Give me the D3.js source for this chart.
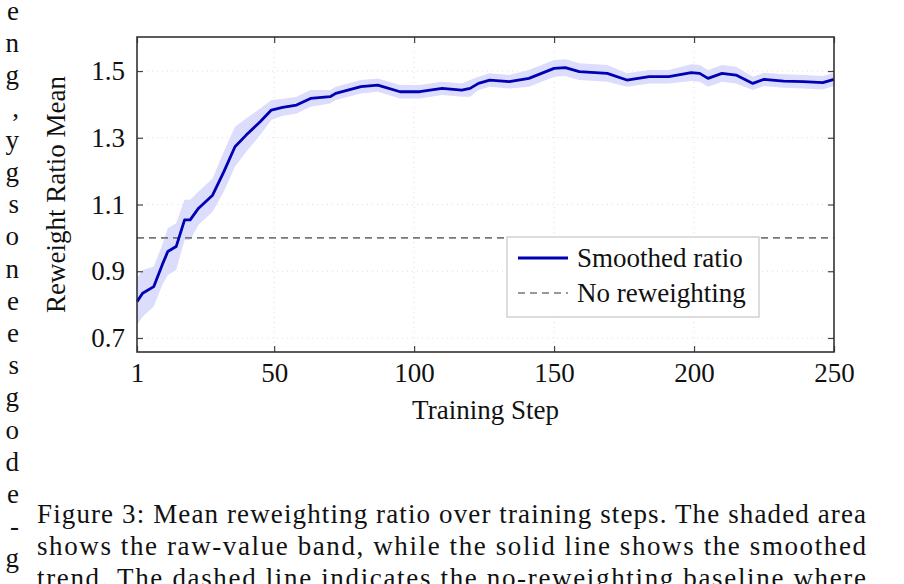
<!DOCTYPE html>
<html><head><meta charset="utf-8">
<script src="https://cdn.jsdelivr.net/npm/d3@7"></script>
<style>body{margin:0;background:#fff}svg{display:block}text{font-family:"Liberation Serif","Times New Roman",serif}</style>
</head><body><svg id="c" width="904" height="584"></svg>
<script>
const steps = [1,3,7,10,12,15,18,20,23,28,32,36,40,45,49,53,58,63,70,72,81,87,95,102,110,117,120,123,127,134,141,150,154,159,169,176,184,191,199,202,205,210,215,221,225,232,239,246,250];
const smoothed = [0.809,0.834,0.854,0.919,0.959,0.974,1.054,1.054,1.089,1.128,1.198,1.273,1.308,1.348,1.383,1.391,1.398,1.418,1.423,1.433,1.453,1.458,1.438,1.438,1.448,1.443,1.448,1.463,1.473,1.468,1.478,1.508,1.510,1.498,1.493,1.473,1.483,1.483,1.495,1.493,1.478,1.493,1.488,1.463,1.475,1.470,1.468,1.465,1.475];
const bandHalf = [0.07,0.07,0.06,0.06,0.07,0.07,0.06,0.06,0.05,0.05,0.06,0.06,0.05,0.04,0.03,0.025,0.025,0.025,0.02,0.02,0.02,0.02,0.02,0.02,0.02,0.02,0.025,0.02,0.02,0.02,0.025,0.025,0.025,0.025,0.025,0.02,0.02,0.02,0.025,0.025,0.025,0.025,0.025,0.02,0.02,0.02,0.02,0.02,0.02];
const xTicks = [1,50,100,150,200,250];
const yTicks = [0.7,0.9,1.1,1.3,1.5];
const baseline = 1.0;
const sideLetters = ["e","n","g",",","y","g","s","o","n","e","e","s","g","o","d","e","-","g"];
const caption = ["Figure 3: Mean reweighting ratio over training steps. The shaded area","shows the raw-value band, while the solid line shows the smoothed","trend. The dashed line indicates the no-reweighting baseline where"];

const svg = d3.select("#c");
const L=137,R=834,T=37,B=352;
const x = d3.scaleLinear().domain([1,250]).range([L,R]);
const y = d3.scaleLinear().domain([0.658,1.602]).range([B,T]);
svg.append("g").selectAll("line").data(xTicks.slice(1,-1)).join("line")
 .attr("x1",d=>x(d)).attr("x2",d=>x(d)).attr("y1",T).attr("y2",B)
 .attr("stroke","#ddd").attr("stroke-dasharray","1,4");
svg.append("g").selectAll("line").data(yTicks).join("line")
 .attr("x1",L).attr("x2",R).attr("y1",d=>y(d)).attr("y2",d=>y(d))
 .attr("stroke","#ddd").attr("stroke-dasharray","1,4");
svg.append("path").datum(steps.map((s,i)=>[s,smoothed[i]-bandHalf[i],smoothed[i]+bandHalf[i]]))
 .attr("fill","#dcdcfc").attr("d",d3.area().x(d=>x(d[0])).y0(d=>y(d[1])).y1(d=>y(d[2])));
svg.append("line").attr("x1",L).attr("x2",R).attr("y1",y(baseline)).attr("y2",y(baseline))
 .attr("stroke","#777").attr("stroke-width",1.6).attr("stroke-dasharray","7,5");
svg.append("path").datum(steps.map((s,i)=>[s,smoothed[i]]))
 .attr("fill","none").attr("stroke","#0000b4").attr("stroke-width",2.8).attr("stroke-linejoin","round")
 .attr("d",d3.line().x(d=>x(d[0])).y(d=>y(d[1])));
const ax = svg.append("g").attr("transform",`translate(0,${B})`).call(d3.axisBottom(x).tickValues(xTicks).tickSize(-6).tickPadding(11));
const axT = svg.append("g").attr("transform",`translate(0,${T})`).call(d3.axisTop(x).tickValues(xTicks).tickSize(-6).tickFormat(""));
const ay = svg.append("g").attr("transform",`translate(${L},0)`).call(d3.axisLeft(y).tickValues(yTicks).tickSize(-6).tickPadding(12).tickFormat(d3.format(".1f")));
const ayR = svg.append("g").attr("transform",`translate(${R},0)`).call(d3.axisRight(y).tickValues(yTicks).tickSize(-6).tickFormat(""));
[ax,axT,ay,ayR].forEach(g=>{g.select(".domain").remove();g.selectAll("line").attr("stroke","#444").attr("stroke-width",1.2);
 g.selectAll("text").attr("fill","#111").style("font-size","27px").style("font-family","Liberation Serif");});
svg.append("rect").attr("x",L).attr("y",T).attr("width",R-L).attr("height",B-T).attr("fill","none").attr("stroke","#333").attr("stroke-width",1.6);
svg.append("text").attr("x",(L+R)/2).attr("y",419).attr("text-anchor","middle").style("font-size","27px").attr("fill","#111").text("Training Step");
svg.append("text").attr("transform",`translate(65,${(T+B)/2}) rotate(-90)`).attr("text-anchor","middle").style("font-size","27px").attr("fill","#111").text("Reweight Ratio Mean");
const lg = svg.append("g");
lg.append("rect").attr("x",507).attr("y",237).attr("width",252).attr("height",80).attr("fill","#fff").attr("stroke","#bbb");
lg.append("line").attr("x1",518).attr("x2",568).attr("y1",258).attr("y2",258).attr("stroke","#0000b4").attr("stroke-width",2.8);
lg.append("line").attr("x1",518).attr("x2",568).attr("y1",293).attr("y2",293).attr("stroke","#777").attr("stroke-width",1.6).attr("stroke-dasharray","7,5");
lg.append("text").attr("x",577).attr("y",267).style("font-size","27px").attr("fill","#111").text("Smoothed ratio");
lg.append("text").attr("x",577).attr("y",302).style("font-size","27px").attr("fill","#111").text("No reweighting");
svg.append("g").selectAll("text").data(sideLetters).join("text")
 .attr("x",19).attr("y",(d,i)=>20+i*32.2).attr("text-anchor","end").style("font-size","27px").attr("fill","#111").text(d=>d);
svg.append("g").selectAll("text").data(caption).join("text")
 .attr("x",37).attr("y",(d,i)=>523+i*32).attr("textLength",829).attr("lengthAdjust","spacing")
 .style("font-size","27px").attr("fill","#111").text(d=>d);
</script></body></html>
